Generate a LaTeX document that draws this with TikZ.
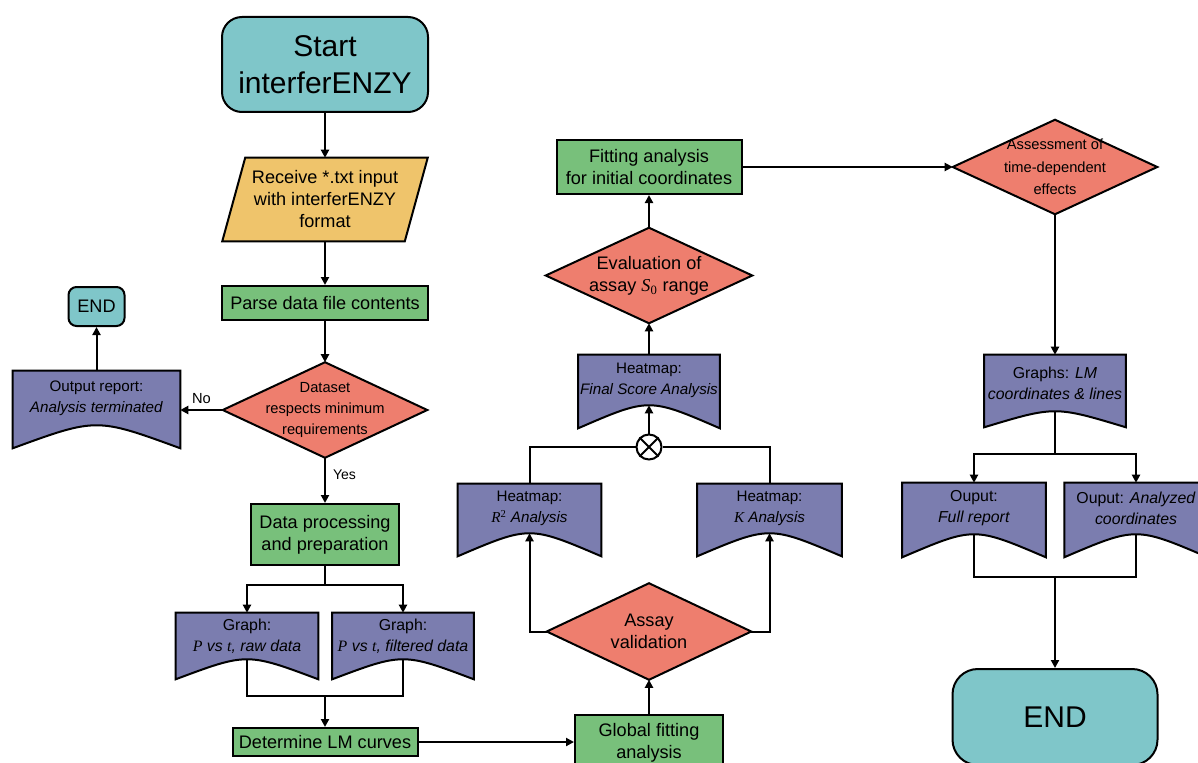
\documentclass[tikz,border=0pt]{standalone}
\usepackage{fontspec}
\setmainfont{Liberation Sans}
\newfontfamily\tnr{Liberation Serif}
\usetikzlibrary{calc,arrows.meta}
\pgfdeclarelayer{bg}
\pgfsetlayers{bg,main}

\definecolor{cteal}{HTML}{7FC6C9}
\definecolor{cyellow}{HTML}{EFC46B}
\definecolor{cgreen}{HTML}{78C07B}
\definecolor{csalmon}{HTML}{EE7E6E}
\definecolor{cpurple}{HTML}{7B7DAF}

\newcommand\bigfont{\fontsize{22.5}{27.75}\selectfont}
\newcommand\stdfont{\fontsize{13.6}{16.5}\selectfont}
\newcommand\smfont{\fontsize{11}{15.6}\selectfont}
\newcommand\docfont{\fontsize{11.4}{15.6}\selectfont}
\newcommand\docfontl{\fontsize{11.9}{15.6}\selectfont}
\newcommand\mvar[1]{{\tnr\itshape #1}}

% document symbol with a raised, curved bottom edge; the peak of the curve is the node's south anchor
\newcommand\docshape[2]{%
  \draw[outline, fill=cpurple]
    (#1.north west) -- (#1.north east) -- ($(#1.south east)+(0,-#2)$)
    .. controls ($(#1.south)+(0,{#2/3})$) and ($(#1.south)+(0,{#2/3})$) ..
    ($(#1.south west)+(0,-#2)$) -- cycle;}

\tikzset{
  outline/.style={draw=black, line width=1.5pt},
  base/.style={inner sep=0pt, align=center, text=black},
  termbox/.style={base, outline, fill=cteal},
  procbox/.style={base, outline, fill=cgreen, font=\stdfont},
  holder/.style={base},
  flow/.style={line width=1.5pt, -{Triangle[length=6pt,width=6pt]}},
  link/.style={line width=1.5pt},
}

\begin{document}
\begin{tikzpicture}[x=0.75pt, y=-0.75pt]
\useasboundingbox (0,0) rectangle (1198,763);
\begin{pgfonlayer}{bg}
  \fill[white] (0,0) rectangle (1198,763);
\end{pgfonlayer}
\clip (0,0) rectangle (1198,763);

% ---------- left column ----------
\node[termbox, minimum width=154.5pt, minimum height=71.25pt, rounded corners=15pt, font=\bigfont]
  (start) at (325,64.5) {Start\\interferENZY};
\node[holder, minimum width=136.5pt, minimum height=62.25pt, font=\stdfont]
  (in) at (325,199.5) {Receive *.txt input\\with interferENZY\\format};
\node[procbox, minimum width=154.5pt, minimum height=25.5pt] (parse) at (325,303) {Parse data file contents};
\node[holder, minimum width=153pt, minimum height=71.25pt, font=\smfont]
  (ds) at (325,410) {Dataset\\respects minimum\\requirements};
\node[holder, minimum width=125.25pt, minimum height=40.5pt, font=\docfont]
  (outrep) at (96.5,398) {Output report:\\\textit{Analysis terminated}};
\node[termbox, minimum width=42pt, minimum height=29.25pt, rounded corners=6pt, font=\stdfont]
  (end1) at (96.5,306.5) {END};
\node[procbox, minimum width=111pt, minimum height=45.75pt] (dp) at (325,534.5) {Data processing\\and preparation};
\node[holder, minimum width=106.5pt, minimum height=34.5pt, font=\docfontl]
  (g1) at (247,636) {Graph:\\\textit{\mvar{P} vs \mvar{t}, raw data}};
\node[holder, minimum width=105.75pt, minimum height=34.5pt, font=\docfontl]
  (g2) at (403,636) {Graph:\\\textit{\mvar{P} vs \mvar{t}, filtered data}};
\node[procbox, minimum width=138.75pt, minimum height=21pt] (lm) at (325,742) {Determine LM curves};

% ---------- middle column ----------
\node[procbox, minimum width=111pt, minimum height=41.25pt] (gfa) at (649,742.5) {Global fitting\\analysis};
\node[holder, minimum width=153pt, minimum height=72pt, font=\stdfont] (av) at (649,631.5) {Assay\\validation};
\node[holder, minimum width=107.25pt, minimum height=36.75pt, font=\docfont]
  (r2) at (529.5,508.5) {Heatmap:\\\mvar{R}\textsuperscript{\tnr 2} \textit{Analysis}};
\node[holder, minimum width=108pt, minimum height=36.75pt, font=\docfont]
  (kh) at (769.5,508.5) {Heatmap:\\\mvar{K} \textit{Analysis}};
\node[circle, outline, fill=white, minimum size=18.75pt, inner sep=0pt] (ox) at (649,447) {};
\node[holder, minimum width=105.75pt, minimum height=37.5pt, font=\docfont]
  (fs) at (649,380) {Heatmap:\\\textit{Final Score Analysis}};
\node[holder, minimum width=154.5pt, minimum height=71.25pt, font=\stdfont]
  (ev) at (649,275.5) {Evaluation of\\assay \mvar{S}\textsubscript{\tnr 0} range};
\node[procbox, minimum width=138.75pt, minimum height=40.5pt] (fit) at (649,167) {Fitting analysis\\for initial coordinates};

% ---------- right column ----------
\node[holder, minimum width=153pt, minimum height=70.5pt, font=\fontsize{11}{16.8}\selectfont]
  (as) at (1055,167) {Assessment of\\time-dependent\\effects};
\node[holder, minimum width=105.75pt, minimum height=42pt, font=\docfontl]
  (glm) at (1055,383) {Graphs: \textit{LM}\\\textit{coordinates \& lines}};
\node[holder, minimum width=107.25pt, minimum height=38.25pt, font=\docfontl]
  (fr) at (974,508.5) {Ouput:\\\textit{Full report}};
\node[holder, minimum width=107.25pt, minimum height=38.25pt, font=\docfontl]
  (ac) at (1136,508.5) {Ouput: \textit{Analyzed}\\\textit{coordinates}};
\node[termbox, minimum width=153.75pt, minimum height=72pt, rounded corners=19pt, font=\bigfont]
  (end2) at (1055,717) {END};

% ---------- shapes drawn behind the texts ----------
\begin{pgfonlayer}{bg}
  \draw[outline, fill=cyellow]
    ($(in.north west)+(8.6pt,0)$) -- ($(in.north east)+(8.6pt,0)$) --
    ($(in.south east)+(-8.6pt,0)$) -- ($(in.south west)+(-8.6pt,0)$) -- cycle;
  \foreach \n in {ds,av,ev,as}
    \draw[outline, fill=csalmon] (\n.north) -- (\n.east) -- (\n.south) -- (\n.west) -- cycle;
  \docshape{outrep}{17.25pt}
  \docshape{g1}{15pt}
  \docshape{g2}{15pt}
  \docshape{r2}{17.25pt}
  \docshape{kh}{17.25pt}
  \docshape{fs}{17.25pt}
  \docshape{glm}{12pt}
  \docshape{fr}{17.25pt}
  \docshape{ac}{17.25pt}
\end{pgfonlayer}

% cross inside the merge circle
\draw[line width=1.5pt] (ox.north west) -- (ox.south east) (ox.north east) -- (ox.south west);

% ---------- connectors ----------
\draw[flow] (start) -- (in);
\draw[flow] (in.south) -- (parse.north);
\draw[flow] (parse) -- (ds.north);
\draw[flow] (ds.west) -- (ds.west -| outrep.east) node[midway, above=1pt, font=\fontsize{11}{13}\selectfont] {No};
\draw[flow] (outrep.north) -- (end1.south);
\draw[flow] (ds.south) -- (dp.north) node[pos=0.38, right=2pt, font=\fontsize{10.5}{12}\selectfont] {Yes};

\coordinate (split1) at (325,585);
\draw[link] (dp.south) -- (split1);
\draw[flow] (split1) -| (g1.north);
\draw[flow] (split1) -| (g2.north);
\coordinate (join1) at (325,696);
\draw[link] (g1.south) |- (join1) -| (g2.south);
\draw[flow] (join1) -- (lm.north);

\draw[flow] (lm.east) -- (lm.east -| gfa.west);
\draw[flow] (gfa.north) -- (av.south);
\draw[flow] (av.west) -| (r2.south);
\draw[flow] (av.east) -| (kh.south);
\draw[link] (r2.north) |- (ox.west);
\draw[link] (kh.north) |- (ox.east);
\draw[flow] (ox.north) -- (fs.south);
\draw[flow] (fs.north) -- (ev.south);
\draw[flow] (ev.north) -- (fit.south);
\draw[flow] (fit.east) -- (as.west);

\draw[flow] (as.south) -- (glm.north);
\coordinate (split2) at (1055,454);
\draw[link] (glm.south) -- (split2);
\draw[flow] (split2) -| (fr.north);
\draw[flow] (split2) -| (ac.north);
\coordinate (join2) at (1055,577);
\draw[link] (fr.south) |- (join2) -| (ac.south);
\draw[flow] (join2) -- (end2.north);
\end{tikzpicture}
\end{document}
